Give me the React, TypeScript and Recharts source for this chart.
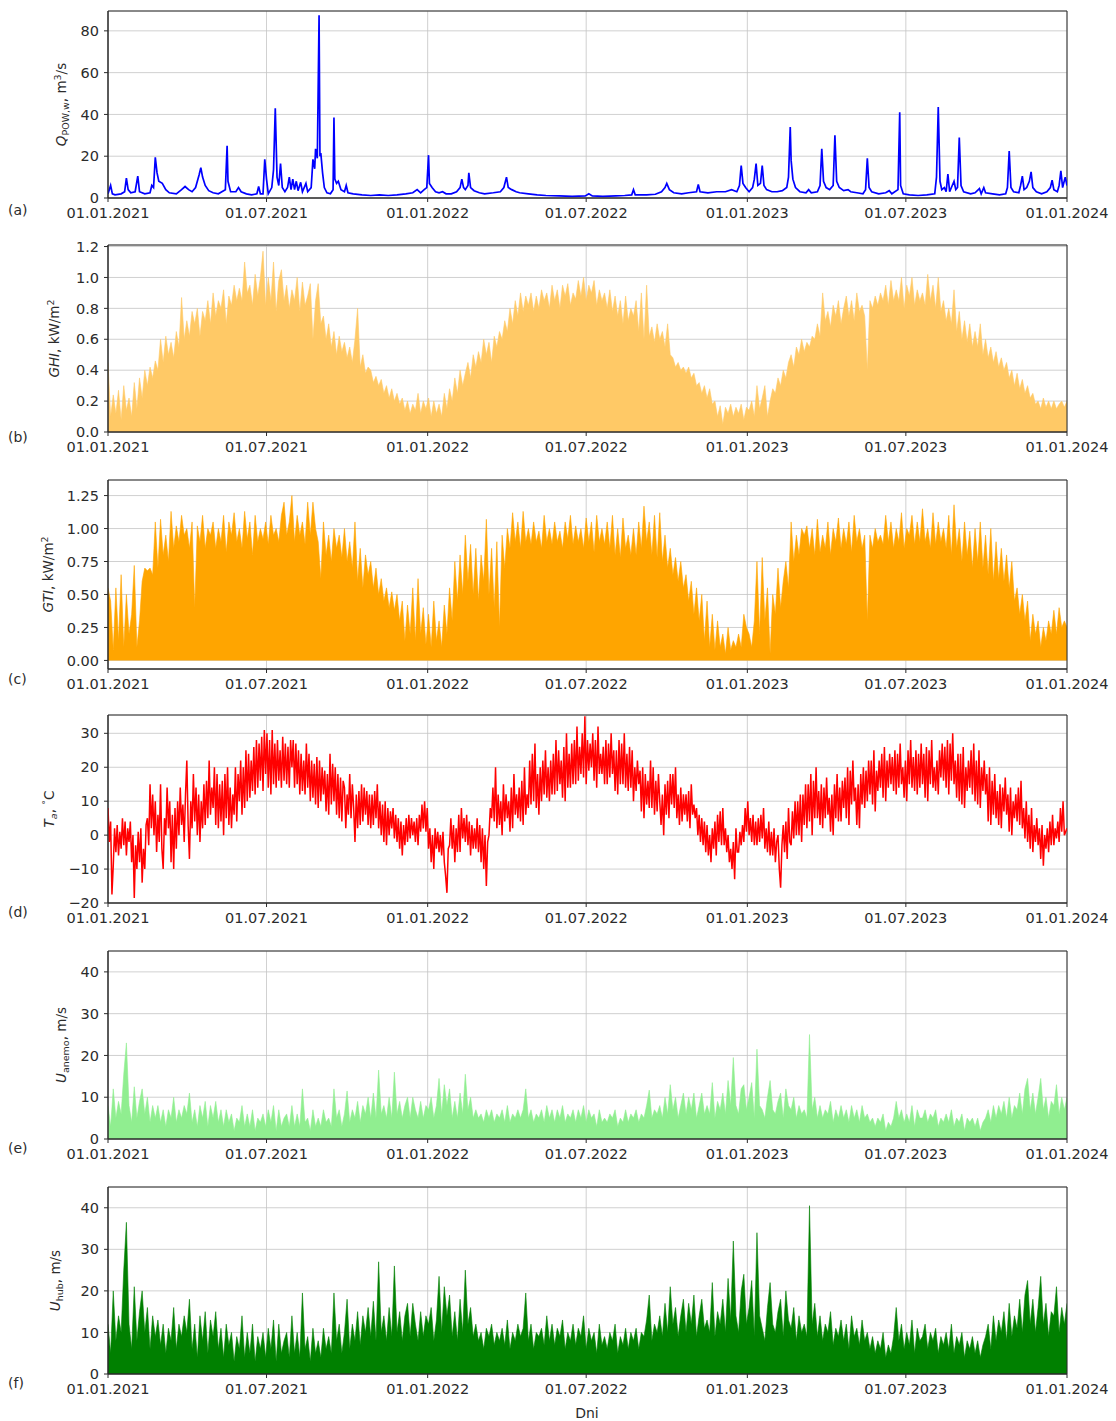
import React from 'react'
import { Area, CartesianGrid, ComposedChart, Line, ReferenceArea, XAxis, YAxis } from 'recharts'

// Daily series are sampled every 3 days (temperature every 1.5 days), starting 01.01.2021 (day 0).
const STEP_DAYS = 3
const TEMP_STEP_DAYS = 1.5
const LAST_DAY = 1095

const dateTicks = [0, 181, 365, 546, 730, 911, 1095]
const dateLabels = ['01.01.2021', '01.07.2021', '01.01.2022', '01.07.2022', '01.01.2023', '01.07.2023', '01.01.2024']

// River discharge, [day, m3/s] – kept as explicit points so the flood peaks sit on their day.
const flowPoints: [number, number][] = [
  [0, 2], [3, 6], [5, 2], [8, 1.5], [15, 2], [19, 3], [21, 9.5], [23, 4], [26, 2.5], [31, 3], [34, 10.5], [36, 3],
  [42, 2], [48, 2.5], [50, 6], [52, 5], [54, 19.5], [56, 12], [58, 8], [62, 7], [66, 4], [70, 2.5], [78, 2], [84, 4],
  [88, 5.5], [92, 4], [96, 3], [100, 5], [104, 11], [106, 14.5], [108, 10], [111, 6], [115, 3.5], [120, 2.5], [126, 2],
  [130, 3], [134, 4], [136, 25], [137, 8], [140, 3], [146, 3], [149, 5], [152, 3], [158, 2], [164, 1.5], [170, 2],
  [172, 5.5], [174, 2], [177, 2], [179, 18.5], [181, 9], [183, 2], [187, 5], [189, 13.5], [191, 43], [193, 10],
  [195, 6], [197, 16.5], [199, 5], [202, 3], [205, 5], [207, 10], [209, 4], [211, 9], [213, 4], [215, 8], [217, 3.5],
  [220, 7.5], [222, 3], [226, 7], [228, 3], [232, 5], [234, 18.5], [236, 14], [237, 23.5], [239, 19], [241, 87.5],
  [242, 20], [243, 21.5], [245, 12], [247, 5], [250, 2.5], [254, 2], [257, 4], [258, 38.5], [259, 9], [261, 7],
  [263, 8], [266, 4], [270, 3], [272, 6], [274, 2.5], [280, 2], [290, 1.5], [300, 1.2], [310, 1.5], [320, 1.2],
  [330, 1.5], [340, 2], [348, 2.5], [353, 4], [357, 2.5], [361, 4], [364, 5], [366, 20.5], [367, 7], [370, 5],
  [374, 3], [378, 2.5], [382, 3], [386, 2], [392, 2], [398, 3], [402, 5], [404, 9], [406, 5], [408, 4], [411, 6],
  [412, 12], [414, 5], [418, 3.5], [424, 2.5], [430, 2], [440, 2.5], [448, 3], [452, 5], [455, 10], [457, 5],
  [461, 4], [466, 3], [470, 2.5], [480, 2], [490, 1.5], [500, 1.2], [515, 1], [530, 0.8], [545, 1], [549, 2],
  [553, 1], [565, 0.8], [580, 1], [590, 1.2], [598, 1.5], [600, 4], [602, 1.5], [615, 1.5], [625, 1.8], [632, 3],
  [636, 5], [638, 7], [641, 4], [646, 2.5], [655, 2], [663, 2.5], [672, 3], [674, 6.5], [676, 3], [685, 2.5],
  [695, 3], [705, 3], [712, 4], [718, 3], [721, 6], [723, 15.5], [725, 7], [728, 5], [732, 3], [736, 5], [738, 9],
  [740, 16.5], [742, 6], [745, 7], [747, 15.5], [749, 6], [752, 4], [758, 3], [764, 3], [770, 3.5], [775, 5],
  [777, 10], [779, 34], [780, 18], [782, 9], [785, 5], [790, 3], [797, 2.5], [800, 4], [803, 2.5], [810, 3],
  [813, 6], [815, 23.5], [817, 8], [820, 5], [824, 4], [828, 6], [830, 30], [832, 8], [835, 5], [840, 3.5],
  [845, 4], [848, 3], [855, 2.5], [862, 2], [865, 4], [867, 19], [869, 5], [872, 3], [880, 2], [888, 2.5],
  [892, 3.5], [895, 2], [902, 4], [904, 41], [905, 6], [908, 2], [915, 1.5], [925, 1.2], [935, 1.5], [944, 2],
  [946, 10], [948, 43.5], [950, 8], [952, 4], [955, 5], [957, 3], [959, 11.5], [961, 3], [966, 8], [968, 4],
  [970, 5], [972, 29], [974, 6], [977, 3], [985, 2], [990, 2.5], [995, 4.5], [997, 2], [1000, 5], [1002, 2.5],
  [1010, 2], [1018, 1.5], [1025, 2], [1027, 5], [1029, 22.5], [1031, 5], [1034, 3], [1040, 2.5], [1042, 6],
  [1044, 10.5], [1046, 4], [1049, 5], [1052, 8], [1054, 12.5], [1056, 5], [1060, 3], [1066, 2], [1072, 3],
  [1076, 5], [1078, 8.5], [1080, 4], [1084, 3], [1086, 6], [1088, 13], [1090, 5], [1093, 10], [1095, 6],
]

// Global horizontal irradiance, kW/m2 (one row = 30 days)
const ghi = [
  0.45, 0.1, 0.24, 0.12, 0.27, 0.08, 0.3, 0.14, 0.22, 0.1,
  0.32, 0.15, 0.35, 0.22, 0.4, 0.3, 0.42, 0.35, 0.46, 0.4,
  0.6, 0.45, 0.62, 0.5, 0.58, 0.48, 0.65, 0.55, 0.87, 0.6,
  0.72, 0.62, 0.78, 0.7, 0.8, 0.62, 0.78, 0.72, 0.85, 0.7,
  0.9, 0.75, 0.85, 0.8, 0.92, 0.7, 0.88, 0.82, 0.95, 0.85,
  0.93, 0.85, 1.1, 0.9, 0.95, 0.82, 1.02, 0.88, 1.0, 1.17,
  0.82, 1.0, 0.85, 1.1, 0.78, 0.98, 1.05, 0.85, 0.95, 0.8,
  0.92, 0.85, 1.0, 0.78, 0.97, 0.82, 0.88, 0.96, 0.6, 0.85,
  0.96, 0.7, 0.75, 0.6, 0.7, 0.55, 0.65, 0.5, 0.62, 0.52,
  0.58, 0.48, 0.55, 0.45, 0.6, 0.8, 0.42, 0.5, 0.38, 0.42,
  0.4, 0.32, 0.36, 0.3, 0.34, 0.25, 0.3, 0.22, 0.28, 0.2,
  0.25, 0.18, 0.22, 0.14, 0.2, 0.12, 0.18, 0.14, 0.25, 0.12,
  0.2, 0.15, 0.22, 0.1, 0.2, 0.12, 0.18, 0.1, 0.25, 0.15,
  0.28, 0.2, 0.35, 0.25, 0.4, 0.3, 0.38, 0.45, 0.35, 0.5,
  0.42, 0.52, 0.45, 0.6, 0.5, 0.58, 0.45, 0.62, 0.55, 0.65,
  0.6, 0.72, 0.65, 0.8, 0.7, 0.85, 0.75, 0.9, 0.78, 0.88,
  0.82, 0.9, 0.78, 0.88, 0.8, 0.92, 0.85, 0.9, 0.8, 0.95,
  0.85, 0.92, 0.8, 0.95, 0.88, 0.96, 0.82, 0.9, 0.86, 0.98,
  0.88, 1.0, 0.85, 0.95, 0.9, 0.98, 0.82, 0.92, 0.85, 0.9,
  0.8, 0.92, 0.78, 0.88, 0.75, 0.85, 0.7, 0.88, 0.72, 0.8,
  0.75, 0.85, 0.65, 0.9, 0.6, 0.95, 0.62, 0.68, 0.58, 0.7,
  0.6, 0.65, 0.55, 0.7, 0.5, 0.48, 0.42, 0.45, 0.4, 0.42,
  0.38, 0.42, 0.35, 0.38, 0.3, 0.32, 0.25, 0.3, 0.22, 0.28,
  0.18, 0.2, 0.1, 0.17, 0.05, 0.16, 0.12, 0.18, 0.1, 0.16,
  0.12, 0.18, 0.08, 0.16, 0.14, 0.2, 0.1, 0.3, 0.15, 0.22,
  0.3, 0.1, 0.2, 0.28, 0.25, 0.35, 0.3, 0.4, 0.35, 0.45,
  0.5, 0.42, 0.55, 0.5, 0.6, 0.52, 0.58, 0.55, 0.62, 0.6,
  0.7, 0.62, 0.9, 0.72, 0.78, 0.68, 0.82, 0.75, 0.85, 0.7,
  0.8, 0.88, 0.75, 0.85, 0.72, 0.9, 0.78, 0.82, 0.75, 0.4,
  0.85, 0.8, 0.88, 0.82, 0.9, 0.85, 0.95, 0.82, 0.98, 0.85,
  0.92, 0.85, 1.0, 0.8, 0.95, 0.88, 1.0, 0.82, 0.92, 0.85,
  0.9, 0.82, 1.02, 0.85, 0.95, 0.8, 1.0, 0.78, 0.85, 0.72,
  0.8, 0.7, 0.92, 0.65, 0.78, 0.6, 0.72, 0.58, 0.7, 0.55,
  0.65, 0.55, 0.7, 0.5, 0.6, 0.48, 0.55, 0.45, 0.52, 0.42,
  0.48, 0.4, 0.45, 0.35, 0.4, 0.3, 0.38, 0.28, 0.34, 0.25,
  0.3, 0.22, 0.25, 0.18, 0.2, 0.15, 0.22, 0.16, 0.2, 0.15,
  0.2, 0.15, 0.18, 0.2, 0.16, 0.2,
]

// Global tilted irradiance, kW/m2
const gti = [
  0.55, 0.45, 0.08, 0.55, 0.15, 0.65, 0.1, 0.5, 0.2, 0.35,
  0.72, 0.1, 0.3, 0.6, 0.7, 0.68, 0.7, 0.65, 1.05, 0.7,
  1.07, 0.8, 0.95, 0.75, 1.13, 0.85, 1.02, 0.9, 1.1, 0.95,
  1.0, 0.85, 1.05, 0.4, 1.02, 0.9, 1.1, 0.85, 1.0, 0.95,
  1.05, 0.85, 1.0, 0.9, 1.1, 0.82, 1.05, 0.95, 1.12, 0.9,
  1.0, 0.85, 1.13, 0.92, 1.05, 0.8, 1.1, 0.9, 1.0, 0.92,
  1.05, 0.88, 1.1, 0.95, 1.0, 0.9, 1.1, 1.2, 0.95, 1.05,
  1.25, 0.9, 1.1, 0.95, 1.05, 0.88, 1.2, 0.95, 1.2, 1.0,
  0.9, 0.62, 1.05, 0.8, 0.95, 0.75, 1.0, 0.85, 0.95, 0.78,
  1.0, 0.75, 0.9, 0.7, 1.05, 0.6, 0.85, 0.55, 0.8, 0.65,
  0.75, 0.55, 0.7, 0.5, 0.62, 0.45, 0.55, 0.4, 0.52, 0.38,
  0.5, 0.3, 0.45, 0.15, 0.42, 0.2, 0.55, 0.15, 0.62, 0.2,
  0.4, 0.12, 0.35, 0.1, 0.45, 0.15, 0.3, 0.1, 0.42, 0.2,
  0.55, 0.3, 0.75, 0.45, 0.8, 0.5, 0.95, 0.6, 0.88, 0.5,
  0.85, 0.45, 0.8, 0.6, 1.07, 0.5, 0.85, 0.4, 0.9, 0.25,
  0.95, 0.7, 1.0, 0.85, 1.12, 0.9, 1.05, 0.85, 1.13, 0.9,
  1.0, 0.88, 1.05, 0.9, 0.98, 0.85, 1.1, 0.9, 1.0, 0.88,
  1.05, 0.9, 0.98, 0.85, 1.05, 0.92, 1.1, 0.88, 1.02, 0.9,
  1.0, 0.85, 1.08, 0.9, 1.05, 0.82, 1.1, 0.9, 1.0, 0.88,
  1.05, 0.85, 1.1, 0.8, 1.0, 0.78, 1.08, 0.85, 0.95, 0.8,
  1.0, 0.8, 1.05, 0.85, 1.17, 0.9, 1.05, 0.8, 1.1, 0.78,
  1.12, 0.75, 0.95, 0.7, 0.85, 0.65, 0.78, 0.6, 0.75, 0.55,
  0.65, 0.45, 0.6, 0.35, 0.55, 0.3, 0.5, 0.15, 0.45, 0.1,
  0.35, 0.08, 0.3, 0.1, 0.2, 0.05, 0.25, 0.08, 0.15, 0.1,
  0.2, 0.1, 0.35, 0.25, 0.2, 0.1, 0.3, 0.75, 0.2, 0.78,
  0.3, 0.55, 0.05, 0.5, 0.35, 0.7, 0.4, 0.6, 0.75, 0.55,
  1.05, 0.75, 0.95, 0.8, 1.0, 0.95, 1.02, 0.85, 1.0, 0.8,
  1.07, 0.82, 0.95, 0.85, 1.05, 0.8, 1.0, 0.9, 1.08, 0.85,
  1.0, 0.88, 1.05, 0.82, 1.1, 0.9, 1.0, 0.85, 0.95, 0.3,
  0.95, 0.85, 1.0, 0.9, 0.95, 0.88, 1.1, 0.9, 1.05, 0.85,
  1.0, 0.9, 1.12, 0.85, 1.0, 0.95, 1.1, 0.88, 1.05, 0.9,
  1.15, 0.9, 1.0, 0.85, 1.12, 0.88, 1.05, 0.9, 1.0, 0.85,
  1.1, 0.8, 1.18, 0.85, 1.0, 0.75, 1.05, 0.8, 0.98, 0.7,
  1.0, 0.75, 1.05, 0.7, 0.95, 0.65, 1.0, 0.6, 0.9, 0.62,
  0.85, 0.6, 0.8, 0.55, 0.75, 0.45, 0.55, 0.35, 0.5, 0.3,
  0.45, 0.15, 0.35, 0.2, 0.3, 0.1, 0.25, 0.15, 0.3, 0.2,
  0.38, 0.2, 0.4, 0.25, 0.3, 0.25,
]

// Air temperature, deg C (one row = 30 days at 1.5-day spacing)
const airTemp = [
  8, -2, 4, -17.5, -9, 2, -5, 3, -6, 1, -4, 5, -3, 4, -6, 2, -2, 4, -8, 0,
  -18.5, -3, -10, 1, -8, 2, -14, -4, -10, 3, 5, -3, 15, 2, 12, 0, 10, -5, 6, -2,
  15, -4, -10, 5, 0, 14, 2, 10, -8, 6, -10, 8, -4, 10, 0, 14, 3, 9, -2, 12,
  22, 3, -7, 10, 2, 18, 4, 14, 0, 12, -2, 10, 2, 15, 3, 16, 5, 22, 6, 14,
  8, 20, 3, 18, 2, 15, 4, 16, 0, 18, 5, 20, 3, 14, 2, 12, 6, 20, 4, 18,
  10, 22, 6, 20, 8, 25, 10, 24, 11, 22, 13, 26, 12, 28, 14, 27, 16, 29, 13, 31,
  18, 30, 14, 28, 12, 31, 15, 27, 14, 28, 16, 25, 14, 29, 16, 27, 15, 26, 14, 28,
  20, 28, 14, 27, 15, 25, 12, 24, 13, 22, 12, 27, 14, 24, 10, 22, 11, 21, 9, 23,
  8, 22, 10, 20, 12, 19, 7, 18, 6, 24, 9, 21, 10, 20, 6, 18, 5, 17, 4, 16,
  14, 2, 12, 6, 18, 5, 15, 8, -2, 12, 2, 13, 3, 15, 4, 14, 6, 13, 3, 12,
  2, 12, 3, 13, 5, 15, 2, 10, 0, 9, -2, 10, -3, 8, 0, 7, 2, 8, -1, 6,
  -2, 5, -4, 4, -6, 3, -3, 5, -2, 6, -1, 5, 0, 4, -2, 5, -3, 6, 1, 9,
  2, 10, 1, 8, -4, 2, -8, 0, -10, 2, -4, 1, -5, 0, -6, 1, -8, -12, -17, -4,
  -3, 5, -4, 3, -8, 2, -5, 6, -5, 8, -1, 5, -2, 6, -3, 4, -6, 3, -4, 2,
  -4, 5, -5, 3, -8, 2, -10, 0, -15, -2, 0, 8, 5, 14, 4, 20, 2, 12, 3, 10,
  0, 15, 4, 12, 5, 10, 1, 14, 2, 18, 6, 12, 5, 14, 4, 16, 3, 20, 6, 12,
  8, 22, 9, 24, 10, 27, 8, 18, 6, 20, 10, 22, 12, 25, 11, 20, 10, 22, 12, 24,
  12, 28, 13, 25, 15, 22, 11, 26, 10, 30, 14, 24, 14, 27, 15, 28, 15, 32, 16, 26,
  18, 30, 17, 35, 15, 28, 19, 27, 20, 30, 16, 28, 14, 32, 18, 24, 18, 26, 15, 28,
  15, 27, 17, 30, 18, 25, 13, 25, 12, 28, 15, 27, 15, 30, 14, 24, 13, 26, 14, 25,
  10, 20, 13, 22, 15, 19, 7, 20, 5, 18, 9, 16, 8, 22, 8, 20, 6, 16, 7, 18,
  10, 3, 12, 0, 15, 6, 16, 5, 18, 9, 18, 8, 20, 5, 12, 3, 14, 4, 12, 6,
  12, 4, 13, 2, 15, 6, 9, 5, 8, 0, 6, -2, 5, -3, 4, -5, 3, -6, 0, -8,
  2, -4, 4, -6, 6, -2, 7, -3, 8, -3, 2, -5, 0, -8, -4, -10, -2, -13, 2, -5,
  -5, 1, -3, 3, -2, 8, 1, 10, 0, 5, -2, 6, -3, 4, -3, 5, -2, 6, -1, 8,
  -4, 2, -5, 4, -6, 1, -6, 2, -8, -2, 0, -10, -15.5, -3, 3, -5, 4, -7, 8, -2,
  -3, 7, -1, 10, 0, 10, 0, 12, -2, 12, 3, 15, 2, 15, 4, 18, 0, 16, 5, 20,
  5, 13, 3, 15, 2, 14, 5, 17, 6, 11, 1, 12, 0, 15, 5, 18, 4, 14, 4, 16,
  8, 17, 5, 20, 3, 19, 9, 22, 10, 14, 3, 15, 2, 18, 9, 20, 8, 19, 10, 22,
  12, 22, 9, 25, 7, 19, 13, 22, 14, 24, 11, 26, 10, 22, 14, 24, 15, 23, 13, 25,
  12, 24, 14, 27, 15, 20, 11, 22, 10, 25, 15, 28, 14, 23, 13, 25, 12, 24, 14, 27,
  15, 24, 11, 26, 10, 25, 15, 28, 14, 20, 13, 22, 12, 25, 17, 27, 16, 26, 14, 28,
  12, 27, 16, 30, 15, 22, 11, 24, 10, 24, 9, 26, 8, 20, 13, 22, 14, 25, 12, 27,
  10, 22, 9, 25, 8, 20, 13, 22, 12, 18, 4, 20, 3, 16, 6, 18, 5, 13, 3, 15,
  2, 14, 7, 17, 6, 12, 1, 14, 0, 10, 5, 12, 4, 14, 3, 16, 2, 8, -1, 10,
  -2, 6, -4, 8, -5, 3, -2, 5, -3, 2, -7, 3, -9, 0, -4, 2, -5, 4, -3, 6,
  -3, 2, -1, 4, -2, 8, 1, 10, 0, 1, 2,
]

// Wind speed at the anemometer, m/s
const windAnemo = [
  8, 3, 12, 5, 9, 6, 15.5, 23, 8, 4,
  12.5, 5, 9, 12, 6, 10, 4, 8, 5, 8,
  4, 7, 3, 7, 5, 10, 4, 7, 5, 8,
  6, 11, 4, 7, 3, 8, 5, 9, 3, 8,
  5, 9, 4, 7, 3, 7, 4, 6, 2, 5,
  4, 8, 3, 6, 3, 7, 2, 5, 4, 6,
  3, 7, 4, 8, 2, 7, 3, 5, 6, 3,
  8, 3, 6, 3, 12, 4, 5, 2, 7, 3,
  5, 3, 7, 4, 5, 3, 12, 5, 7, 3,
  6, 11.5, 4, 7, 5, 9, 4, 8, 6, 10,
  5, 11, 5, 16.5, 6, 8, 5, 10, 5, 16,
  6, 9, 5, 8, 10, 5, 10, 7, 5, 9,
  5, 8, 7, 10, 5, 8, 14.5, 6, 13, 8,
  12, 5, 9, 5, 11, 6, 15.5, 7, 10, 5,
  7, 5, 6, 4, 7, 5, 7, 4, 6, 5,
  7, 4, 8, 4, 6, 5, 7, 5, 7, 12,
  5, 7, 4, 6, 5, 7, 4, 8, 5, 7,
  4, 7, 5, 8, 4, 6, 5, 7, 4, 7,
  5, 8, 4, 7, 5, 6, 3, 7, 4, 5,
  4, 6, 5, 7, 3, 5, 4, 7, 4, 6,
  5, 7, 4, 6, 5, 8, 11.7, 5, 7, 6,
  8, 5, 10, 6, 13, 7, 10, 5, 8, 11,
  6, 10, 7, 11, 5, 8, 11, 6, 8, 6,
  13.5, 5, 9, 7, 11, 6, 14, 8, 19.5, 8,
  6, 12, 13, 7, 10, 13.5, 5, 21.5, 8, 7,
  5, 10, 14, 7, 6, 9, 11, 5, 12, 8,
  7, 10, 5, 8, 6, 7, 5, 25, 7, 10,
  5, 8, 5, 7, 6, 9, 4, 7, 5, 8,
  5, 7, 4, 8, 5, 7, 4, 8, 5, 6,
  4, 5, 3, 5, 4, 6, 2, 4, 3, 5,
  9, 5, 7, 4, 6, 4, 8, 3, 7, 5,
  5, 7, 4, 6, 5, 7, 3, 5, 4, 6,
  4, 7, 3, 5, 4, 6, 2, 5, 4, 5,
  3, 5, 2, 4, 5, 7, 4, 8, 5, 8,
  6, 9, 5, 10, 5, 8, 7, 11, 6, 12,
  14.5, 7, 11, 6, 10, 14.5, 7, 10, 5, 9,
  8, 13, 6, 10, 7, 10,
]

// Wind speed at hub height, m/s
const windHub = [
  12, 5, 20, 8, 14, 10, 25, 36.5, 12, 6,
  21, 8, 15, 20, 10, 16, 6, 14, 9, 13,
  7, 12, 5, 11, 8, 16, 6, 12, 9, 14,
  10, 18, 6, 12, 4, 14, 8, 15, 5, 13,
  9, 15, 6, 11, 4, 12, 7, 10, 3, 9,
  6, 14, 4, 10, 5, 12, 3, 9, 6, 10,
  4, 11, 6, 13, 3, 12, 5, 8, 10, 4,
  14, 5, 10, 4, 19.5, 6, 9, 3, 11, 5,
  8, 4, 11, 6, 9, 5, 19.5, 8, 12, 5,
  10, 18, 6, 12, 8, 15, 7, 14, 10, 16,
  9, 17.5, 8, 27, 10, 14, 8, 16, 9, 26,
  10, 15, 8, 14, 17, 9, 17, 12, 8, 15,
  9, 14, 12, 16, 8, 13, 23.5, 10, 21, 14,
  19, 9, 15, 8, 18, 10, 25, 12, 16, 9,
  12, 8, 10, 6, 11, 9, 12, 7, 10, 8,
  11, 7, 13, 6, 10, 8, 12, 9, 11, 19.5,
  8, 12, 6, 10, 9, 11, 7, 14, 8, 12,
  7, 11, 9, 13, 6, 10, 8, 12, 7, 11,
  9, 14, 6, 11, 8, 10, 5, 12, 7, 9,
  6, 10, 8, 12, 5, 9, 7, 11, 6, 10,
  8, 11, 6, 10, 9, 13, 19, 8, 12, 10,
  14, 9, 17, 10, 21, 12, 16, 9, 14, 18,
  10, 17, 12, 19, 9, 14, 18, 11, 13, 10,
  22, 9, 15, 12, 18, 10, 23, 13, 32, 14,
  10, 20, 24, 12, 16, 22.5, 9, 34, 14, 11,
  8, 16, 22, 12, 10, 15, 18, 9, 20, 13,
  11, 16, 8, 14, 10, 12, 9, 40.5, 12, 17,
  9, 14, 8, 12, 10, 15, 7, 11, 9, 13,
  8, 12, 6, 14, 9, 11, 7, 13, 8, 10,
  6, 9, 5, 8, 6, 10, 4, 7, 5, 9,
  16, 8, 12, 6, 10, 7, 13, 5, 11, 8,
  9, 12, 6, 10, 8, 11, 5, 9, 7, 10,
  6, 12, 5, 9, 7, 10, 4, 8, 6, 9,
  5, 8, 4, 7, 9, 12, 6, 14, 8, 13,
  10, 15, 8, 17, 9, 14, 11, 18, 10, 19,
  22.5, 12, 18, 10, 16, 23.5, 12, 17, 9, 15,
  14, 21, 10, 16, 12, 17,
]

const CHART_W = 1116
const PLOT_LEFT = 108
const PLOT_RIGHT = 1067
const TOP_PAD = 10
const AXIS_H = 40

const FONT = 'DejaVu Sans, sans-serif'
const INK = '#2b2b2b'
const GRID = '#c4c4c4'

type Row = { day: number; v: number }

const sampled = (values: number[], step = STEP_DAYS): Row[] => values.map((v, i) => ({ day: i * step, v }))
const fixed = (digits: number) => (v: number) => v.toFixed(digits).replace('-', '\u2212')

type PanelSpec = {
  id: string
  top: number
  height: number
  data: Row[]
  domain: [number, number]
  ticks: number[]
  format: (v: number) => string
  kind: 'line' | 'area'
  color: string
  width: number
  tagY: number
  titleX: number
  title: React.ReactNode
}

const SUB = 9.5

const panels: PanelSpec[] = [
  {
    id: 'a', top: 11, height: 187, data: flowPoints.map(([day, v]) => ({ day, v })),
    domain: [0, 89.5], ticks: [0, 20, 40, 60, 80], format: fixed(0), kind: 'line', color: '#0000ff', width: 1.7,
    tagY: 215, titleX: 62,
    title: (<><tspan fontStyle="italic">Q</tspan><tspan fontSize={SUB} dy={3}>POW,w</tspan><tspan dy={-3}>, m</tspan><tspan fontSize={SUB} dy={-5}>3</tspan><tspan dy={5}>/s</tspan></>),
  },
  {
    id: 'b', top: 245, height: 187, data: sampled(ghi),
    domain: [0, 1.21], ticks: [0, 0.2, 0.4, 0.6, 0.8, 1.0, 1.2], format: fixed(1), kind: 'area', color: '#ffc966', width: 0.6,
    tagY: 442, titleX: 55,
    title: (<><tspan fontStyle="italic">GHI</tspan><tspan>, kW/m</tspan><tspan fontSize={SUB} dy={-5}>2</tspan></>),
  },
  {
    id: 'c', top: 480, height: 189, data: sampled(gti),
    domain: [-0.065, 1.368], ticks: [0, 0.25, 0.5, 0.75, 1.0, 1.25], format: fixed(2), kind: 'area', color: '#ffa500', width: 0.6,
    tagY: 684, titleX: 49,
    title: (<><tspan fontStyle="italic">GTI</tspan><tspan>, kW/m</tspan><tspan fontSize={SUB} dy={-5}>2</tspan></>),
  },
  {
    id: 'd', top: 715, height: 188, data: sampled(airTemp, TEMP_STEP_DAYS),
    domain: [-20, 35.4], ticks: [-20, -10, 0, 10, 20, 30], format: fixed(0), kind: 'line', color: '#ff0000', width: 1.5,
    tagY: 917, titleX: 50,
    title: (<><tspan fontStyle="italic">T</tspan><tspan fontSize={SUB} fontStyle="italic" dy={3}>a</tspan><tspan dy={-3}>, </tspan><tspan fontSize={SUB} dy={-5}>°</tspan><tspan dy={5}>C</tspan></>),
  },
  {
    id: 'e', top: 951, height: 188, data: sampled(windAnemo),
    domain: [0, 45], ticks: [0, 10, 20, 30, 40], format: fixed(0), kind: 'area', color: '#90ee90', width: 0.6,
    tagY: 1153, titleX: 62,
    title: (<><tspan fontStyle="italic">U</tspan><tspan fontSize={SUB} dy={3}>anemo</tspan><tspan dy={-3}>, m/s</tspan></>),
  },
  {
    id: 'f', top: 1187, height: 187, data: sampled(windHub),
    domain: [0, 45], ticks: [0, 10, 20, 30, 40], format: fixed(0), kind: 'area', color: '#008000', width: 0.6,
    tagY: 1388, titleX: 56,
    title: (<><tspan fontStyle="italic">U</tspan><tspan fontSize={SUB} dy={3}>hub</tspan><tspan dy={-3}>, m/s</tspan></>),
  },
]

const tickStyle = { fill: INK, fontSize: 14.5, fontFamily: FONT }

function Panel({ spec }: { spec: PanelSpec }) {
  const [lo, hi] = spec.domain
  return (
    <div style={{ position: 'absolute', left: 0, top: spec.top - TOP_PAD }}>
      <ComposedChart
        width={CHART_W}
        height={TOP_PAD + spec.height + AXIS_H}
        data={spec.data}
        margin={{ top: TOP_PAD, right: CHART_W - PLOT_RIGHT, bottom: 0, left: 0 }}
      >
        <CartesianGrid stroke={GRID} strokeWidth={0.8} />
        <XAxis
          dataKey="day"
          type="number"
          domain={[0, LAST_DAY]}
          ticks={dateTicks}
          interval={0}
          allowDataOverflow
          height={AXIS_H}
          tickFormatter={(d: number) => dateLabels[dateTicks.indexOf(d)]}
          tickSize={4}
          tickMargin={6}
          tick={tickStyle}
          tickLine={{ stroke: INK }}
          axisLine={{ stroke: INK }}
        />
        <YAxis
          type="number"
          domain={spec.domain}
          ticks={spec.ticks}
          interval={0}
          allowDataOverflow
          width={PLOT_LEFT}
          tickFormatter={spec.format}
          tickSize={4}
          tickMargin={5}
          tick={tickStyle}
          tickLine={{ stroke: INK }}
          axisLine={{ stroke: INK }}
        />
        {spec.kind === 'line' ? (
          <Line
            dataKey="v"
            type="linear"
            stroke={spec.color}
            strokeWidth={spec.width}
            dot={false}
            activeDot={false}
            isAnimationActive={false}
          />
        ) : (
          <Area
            dataKey="v"
            type="linear"
            baseValue={0}
            stroke={spec.color}
            strokeWidth={spec.width}
            fill={spec.color}
            fillOpacity={1}
            dot={false}
            activeDot={false}
            isAnimationActive={false}
          />
        )}
        <ReferenceArea x1={0} x2={LAST_DAY} y1={lo} y2={hi} fill="none" stroke={INK} strokeWidth={1} />
      </ComposedChart>
    </div>
  )
}

export default function App() {
  return (
    <div style={{ position: 'absolute', left: 0, top: 0, width: 1116, height: 1421, background: '#fff' }}>
      {panels.map((p) => (
        <Panel key={p.id} spec={p} />
      ))}
      <svg width={1116} height={1421} style={{ position: 'absolute', left: 0, top: 0, pointerEvents: 'none' }}>
        {panels.map((p) => (
          <g key={p.id} fontFamily={FONT} fill={INK}>
            <text x={8} y={p.tagY} fontSize={14}>({p.id})</text>
            <text
              transform={`translate(${p.titleX + 4},${p.top + p.height / 2}) rotate(-90)`}
              textAnchor="middle"
              fontSize={13.5}
            >
              {p.title}
            </text>
          </g>
        ))}
        <text x={587} y={1418} textAnchor="middle" fontFamily={FONT} fontSize={14} fill={INK}>Dni</text>
      </svg>
    </div>
  )
}
